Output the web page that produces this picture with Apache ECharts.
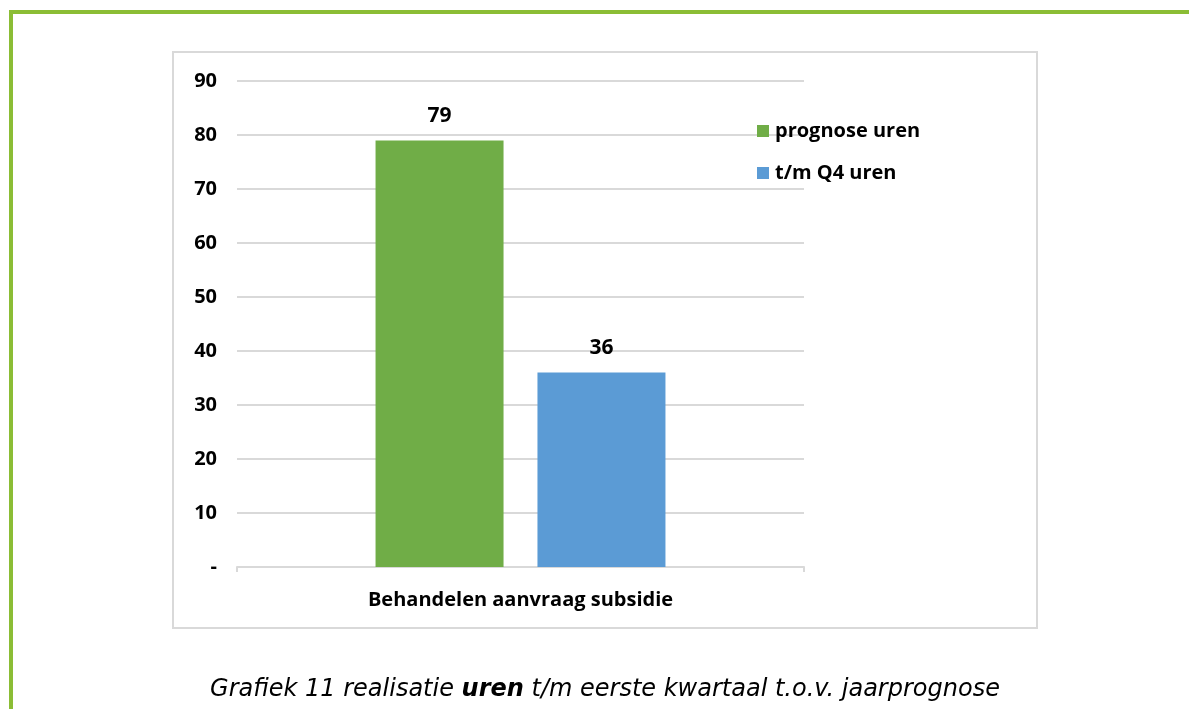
<!DOCTYPE html>
<html>
<head>
<meta charset="utf-8">
<script src="https://cdn.jsdelivr.net/npm/echarts@6/dist/echarts.min.js"></script>
<style>
  html, body { margin: 0; padding: 0; background: #fff; }
  #main { width: 1189px; height: 709px; }
</style>
</head>
<body>
<div id="main"></div>
<script>
var categories = ['Behandelen aanvraag subsidie'];
var seriesNames = ['prognose uren', 't/m Q4 uren'];
var prognose = [79];
var realisatie = [36];
var yTicks = [0, 10, 20, 30, 40, 50, 60, 70, 80, 90];

var chart = echarts.init(document.getElementById('main'));
var font = '"Open Sans", "DejaVu Sans", sans-serif';

chart.setOption({
    animation: false,
    backgroundColor: '#fff',
    textStyle: { fontFamily: font },
    grid: { left: 237, right: 385, top: 81, bottom: 142 },
    legend: {
        orient: 'vertical',
        left: 752,
        top: 116,
        itemGap: 22,
        itemWidth: 12,
        itemHeight: 12,
        icon: 'rect',
        data: seriesNames,
        textStyle: { fontSize: 20, fontWeight: 'bold', color: '#000', padding: [0, 0, 0, 1] }
    },
    xAxis: {
        type: 'category',
        data: categories,
        axisLine: { lineStyle: { color: '#d9d9d9', width: 2 } },
        axisTick: { show: true, length: 5, lineStyle: { color: '#d9d9d9', width: 2 } },
        axisLabel: { fontSize: 20, fontWeight: 'bold', color: '#000', margin: 23 }
    },
    yAxis: {
        type: 'value',
        min: yTicks[0],
        max: yTicks[yTicks.length - 1],
        interval: 10,
        axisLine: { show: false },
        axisTick: { show: false },
        splitLine: { lineStyle: { color: '#d9d9d9', width: 2 } },
        axisLabel: {
            fontSize: 20, fontWeight: 'bold', color: '#000', margin: 20,
            formatter: function (v) { return v === 0 ? '-' : String(v); }
        }
    },
    series: [
        {
            name: seriesNames[0],
            type: 'bar',
            data: prognose,
            barWidth: 128,
            barGap: '26.5%',
            itemStyle: { color: '#70ad47' },
            label: { show: true, position: 'top', distance: 14, fontSize: 21, fontWeight: 'bold', color: '#000' }
        },
        {
            name: seriesNames[1],
            type: 'bar',
            data: realisatie,
            barWidth: 128,
            itemStyle: { color: '#5b9bd5' },
            label: { show: true, position: 'top', distance: 14, fontSize: 21, fontWeight: 'bold', color: '#000' }
        }
    ],
    graphic: [
        { type: 'line', shape: { x1: 9, y1: 12, x2: 1189, y2: 12 }, style: { stroke: '#8bbd35', lineWidth: 4 } },
        { type: 'line', shape: { x1: 11, y1: 10, x2: 11, y2: 709 }, style: { stroke: '#8bbd35', lineWidth: 4 } },
        { type: 'rect', shape: { x: 173, y: 52, width: 864, height: 576 }, style: { fill: 'none', stroke: '#d9d9d9', lineWidth: 2 }, z: -1 },
        {
            type: 'text',
            x: 605, y: 690,
            style: {
                text: '{a|Grafiek 11 realisatie }{b|uren}{a| t/m eerste kwartaal t.o.v. jaarprognose}',
                align: 'center',
                verticalAlign: 'middle',
                rich: {
                    a: { fontFamily: '"DejaVu Sans", Verdana, sans-serif', fontStyle: 'italic', fontSize: 24, fill: '#000' },
                    b: { fontFamily: '"DejaVu Sans", Verdana, sans-serif', fontStyle: 'italic', fontWeight: 'bold', fontSize: 24, fill: '#000' }
                }
            }
        }
    ]
});
</script>
</body>
</html>
